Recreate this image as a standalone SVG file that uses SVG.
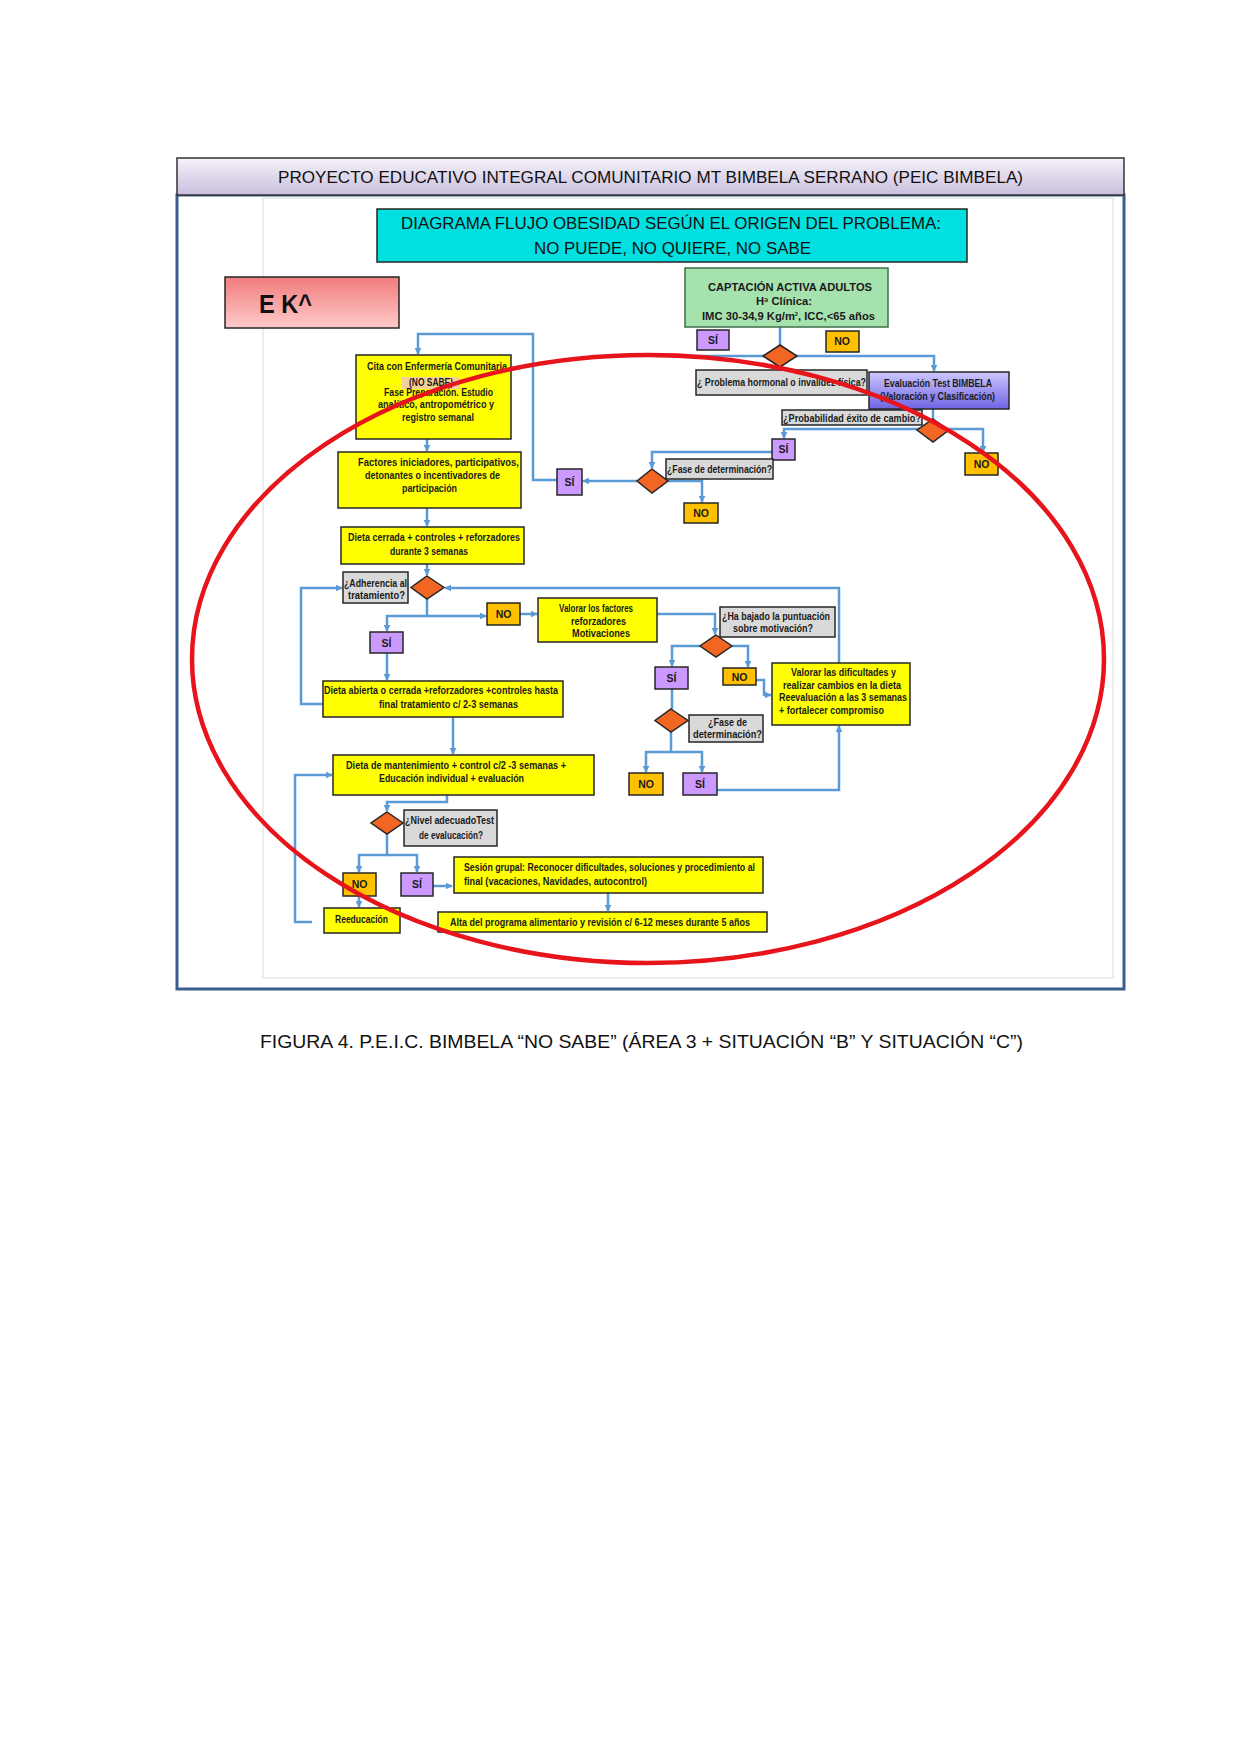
<svg xmlns="http://www.w3.org/2000/svg" width="1240" height="1754" viewBox="0 0 1240 1754">
<style>
.box{stroke:#262626;stroke-width:1.5}
.y{fill:#ffff00}
.g{fill:#d9d9d9}
.si{fill:#cc99ff}
.no{fill:#ffc000}
.dia{fill:#f26522;stroke:#262626;stroke-width:1.5}
.t{font-family:"Liberation Sans",Arial,sans-serif;font-weight:bold;font-size:10px;fill:#1a1a1a}
.l{font-family:"Liberation Sans",Arial,sans-serif;font-weight:bold;font-size:10.5px;fill:#1a1a1a;text-anchor:middle}
.c{stroke:#5b9bd5;stroke-width:2.5;fill:none}
.hd{font-family:"Liberation Sans",Arial,sans-serif;fill:#111}
</style>
<defs>
<marker id="a" viewBox="0 0 10 10" refX="9" refY="5" markerWidth="7" markerHeight="7" markerUnits="userSpaceOnUse" orient="auto"><path d="M0,0 L10,5 L0,10 z" fill="#5b9bd5"/></marker>
<linearGradient id="tb" x1="0" y1="0" x2="0" y2="1"><stop offset="0" stop-color="#f6f3fa"/><stop offset="1" stop-color="#c9bedd"/></linearGradient>
<linearGradient id="pk" x1="0" y1="0" x2="0" y2="1"><stop offset="0" stop-color="#f07c7c"/><stop offset="1" stop-color="#ffcaca"/></linearGradient>
<linearGradient id="ev" x1="0" y1="0" x2="0" y2="1"><stop offset="0" stop-color="#cdc8ff"/><stop offset="1" stop-color="#6f63e2"/></linearGradient>
</defs>
<rect width="1240" height="1754" fill="#ffffff"/>

<g id="frame">
<rect x="177" y="195" width="947" height="794" fill="#ffffff" stroke="#3a5f8f" stroke-width="3"/>
<rect x="263" y="198" width="850" height="780" fill="none" stroke="#d9d9d9" stroke-width="1"/>
<rect x="177" y="158" width="947" height="37" fill="url(#tb)" stroke="#333" stroke-width="1.5"/>
<text class="hd" x="278" y="183" font-size="17" textLength="745" lengthAdjust="spacingAndGlyphs">PROYECTO EDUCATIVO INTEGRAL COMUNITARIO MT BIMBELA SERRANO (PEIC BIMBELA)</text>
</g>

<g id="header">
<rect x="377" y="209" width="590" height="53" fill="#00e0e0" stroke="#262626" stroke-width="1.5"/>
<text class="hd" x="401" y="229" font-size="17" textLength="540" lengthAdjust="spacingAndGlyphs">DIAGRAMA FLUJO OBESIDAD SEGÚN EL ORIGEN DEL PROBLEMA:</text>
<text class="hd" x="534" y="254" font-size="17" textLength="277" lengthAdjust="spacingAndGlyphs">NO PUEDE, NO QUIERE, NO SABE</text>
</g>

<g id="ek">
<rect x="225" y="277" width="174" height="51" fill="url(#pk)" stroke="#262626" stroke-width="1.5"/>
<text class="hd" x="259" y="313" font-size="26" font-weight="bold" textLength="53" lengthAdjust="spacingAndGlyphs">E K^</text>
</g>

<g id="connectors">
<path class="c" d="M780,327 V345"/>
<path class="c" d="M695,356 H934 V371" marker-end="url(#a)"/>
<path class="c" d="M933,409 V419"/>
<path class="c" d="M933,429 H784 V438" marker-end="url(#a)"/>
<path class="c" d="M933,429 H983 V452" marker-end="url(#a)"/>
<path class="c" d="M772,452 H652 V468" marker-end="url(#a)"/>
<path class="c" d="M637,481 H583" marker-end="url(#a)"/>
<path class="c" d="M668,481 H702 V502" marker-end="url(#a)"/>
<path class="c" d="M557,480 H533 V334 H418 V354" marker-end="url(#a)"/>
<path class="c" d="M427,439 V451" marker-end="url(#a)"/>
<path class="c" d="M427,508 V526" marker-end="url(#a)"/>
<path class="c" d="M427,564 V575" marker-end="url(#a)"/>
<path class="c" d="M427,599 V616 H486" marker-end="url(#a)"/>
<path class="c" d="M427,616 H387 V631" marker-end="url(#a)"/>
<path class="c" d="M520,614 H537" marker-end="url(#a)"/>
<path class="c" d="M387,653 V680" marker-end="url(#a)"/>
<path class="c" d="M323,704 H301 V588 H342" marker-end="url(#a)"/>
<path class="c" d="M839,663 V588 H445" marker-end="url(#a)"/>
<path class="c" d="M657,614 H715 V634" marker-end="url(#a)"/>
<path class="c" d="M700,646 H672 V666" marker-end="url(#a)"/>
<path class="c" d="M732,646 H748 V667" marker-end="url(#a)"/>
<path class="c" d="M756,680 H764 V695 H771" marker-end="url(#a)"/>
<path class="c" d="M672,689 V709"/>
<path class="c" d="M671,732 V752 H646 V772" marker-end="url(#a)"/>
<path class="c" d="M671,752 H702 V772" marker-end="url(#a)"/>
<path class="c" d="M717,790 H839 V726" marker-end="url(#a)"/>
<path class="c" d="M453,717 V754" marker-end="url(#a)"/>
<path class="c" d="M447,795 V802 H387 V811" marker-end="url(#a)"/>
<path class="c" d="M387,834 V855 H359 V872" marker-end="url(#a)"/>
<path class="c" d="M387,855 H417 V872" marker-end="url(#a)"/>
<path class="c" d="M433,886 H452" marker-end="url(#a)"/>
<path class="c" d="M608,893 V911" marker-end="url(#a)"/>
<path class="c" d="M359,896 V907" marker-end="url(#a)"/>
<path class="c" d="M312,922 H295 V775 H332" marker-end="url(#a)"/>
</g>

<g id="captacion">
<rect x="685" y="268" width="203" height="59" fill="#a6e2ae" stroke="#3f6f4a" stroke-width="1.5"/>
<text class="t" x="708" y="291" textLength="164" lengthAdjust="spacingAndGlyphs">CAPTACIÓN ACTIVA ADULTOS</text>
<text class="t" x="756" y="305" textLength="56" lengthAdjust="spacingAndGlyphs">Hª Clínica:</text>
<text class="t" x="702" y="320" textLength="173" lengthAdjust="spacingAndGlyphs">IMC 30-34,9 Kg/m<tspan font-size="5" dy="-4">2</tspan><tspan dy="4">, ICC,&lt;65 años</tspan></text>
</g>
<g id="si1"><rect class="box si" x="697" y="330" width="32" height="20"/><text class="l" x="713" y="344">SÍ</text></g>
<g id="no1"><rect class="box no" x="826" y="331" width="33" height="21"/><text class="l" x="842" y="345">NO</text></g>
<g id="d1"><polygon class="dia" points="780,345 797,356 780,367 763,356"/></g>
<g id="q1"><rect class="box g" x="696" y="370" width="171" height="25"/><text class="t" x="697" y="386" textLength="169" lengthAdjust="spacingAndGlyphs">¿ Problema hormonal o invalidez física?</text></g>
<g id="eval"><rect x="869" y="372" width="140" height="37" fill="url(#ev)" stroke="#262626" stroke-width="1.5"/>
<text class="t" x="884" y="387" textLength="108" lengthAdjust="spacingAndGlyphs">Evaluación Test BIMBELA</text>
<text class="t" x="880" y="400" textLength="115" lengthAdjust="spacingAndGlyphs">(Valoración y Clasificación)</text></g>
<g id="q2"><rect class="box g" x="782" y="410" width="140" height="15"/><text class="t" x="783" y="421.5" textLength="138" lengthAdjust="spacingAndGlyphs">¿Probabilidad éxito de cambio?</text></g>
<g id="d2"><polygon class="dia" points="933,419 949,430 933,442 917,430"/></g>
<g id="si2"><rect class="box si" x="772" y="439" width="23" height="21"/><text class="l" x="783.5" y="453">SÍ</text></g>
<g id="no2"><rect class="box no" x="965" y="453" width="33" height="22"/><text class="l" x="981.5" y="468">NO</text></g>
<g id="q3"><rect class="box g" x="666" y="459" width="107" height="20"/><text class="t" x="667" y="473" textLength="105" lengthAdjust="spacingAndGlyphs">¿Fase de determinación?</text></g>
<g id="d3"><polygon class="dia" points="652,469 668,481 652,493 637,481"/></g>
<g id="si3"><rect class="box si" x="557" y="469" width="25" height="26"/><text class="l" x="569.5" y="486">SÍ</text></g>
<g id="no3"><rect class="box no" x="684" y="503" width="34" height="20"/><text class="l" x="701" y="517">NO</text></g>

<g id="cita">
<rect class="box y" x="356" y="355" width="155" height="84"/>
<rect x="402" y="377" width="58" height="12" fill="#f5cf9a"/>
<text class="t" x="367" y="370" textLength="140" lengthAdjust="spacingAndGlyphs">Cita con Enfermería Comunitaria</text>
<text class="t" x="409" y="386" textLength="44" lengthAdjust="spacingAndGlyphs">(NO SABE)</text>
<text class="t" x="384" y="396" textLength="109" lengthAdjust="spacingAndGlyphs">Fase Preparación. Estudio</text>
<text class="t" x="378" y="408" textLength="116" lengthAdjust="spacingAndGlyphs">analítico, antropométrico y</text>
<text class="t" x="402" y="421" textLength="72" lengthAdjust="spacingAndGlyphs">registro semanal</text>
</g>
<g id="factores">
<rect class="box y" x="338" y="452" width="183" height="56"/>
<text class="t" x="358" y="466" textLength="161" lengthAdjust="spacingAndGlyphs">Factores iniciadores, participativos,</text>
<text class="t" x="365" y="479" textLength="135" lengthAdjust="spacingAndGlyphs">detonantes o incentivadores de</text>
<text class="t" x="402" y="492" textLength="55" lengthAdjust="spacingAndGlyphs">participación</text>
</g>
<g id="dietacerrada">
<rect class="box y" x="341" y="527" width="183" height="37"/>
<text class="t" x="348" y="541" textLength="172" lengthAdjust="spacingAndGlyphs">Dieta cerrada + controles + reforzadores</text>
<text class="t" x="390" y="555" textLength="78" lengthAdjust="spacingAndGlyphs">durante 3 semanas</text>
</g>
<g id="q4"><rect class="box g" x="343" y="572" width="65" height="31"/>
<text class="t" x="344" y="587" textLength="63" lengthAdjust="spacingAndGlyphs">¿Adherencia al</text>
<text class="t" x="348" y="599" textLength="57" lengthAdjust="spacingAndGlyphs">tratamiento?</text></g>
<g id="d4"><polygon class="dia" points="427,576 444,587.5 427,599 411,587.5"/></g>
<g id="no4"><rect class="box no" x="487" y="603" width="33" height="22"/><text class="l" x="503.5" y="618">NO</text></g>
<g id="valorar">
<rect class="box y" x="538" y="598" width="119" height="44"/>
<text class="t" x="559" y="612" textLength="74" lengthAdjust="spacingAndGlyphs">Valorar los factores</text>
<text class="t" x="571" y="625" textLength="55" lengthAdjust="spacingAndGlyphs">reforzadores</text>
<text class="t" x="572" y="637" textLength="58" lengthAdjust="spacingAndGlyphs">Motivaciones</text>
</g>
<g id="si4"><rect class="box si" x="370" y="632" width="33" height="21"/><text class="l" x="386.5" y="647">SÍ</text></g>
<g id="dietaabierta">
<rect class="box y" x="323" y="681" width="240" height="36"/>
<text class="t" x="324" y="694" textLength="234" lengthAdjust="spacingAndGlyphs">Dieta abierta  o cerrada +reforzadores +controles hasta</text>
<text class="t" x="379" y="708" textLength="139" lengthAdjust="spacingAndGlyphs">final tratamiento c/ 2-3 semanas</text>
</g>
<g id="q6"><rect class="box g" x="720" y="607" width="115" height="30"/>
<text class="t" x="722" y="620" textLength="108" lengthAdjust="spacingAndGlyphs">¿Ha bajado la puntuación</text>
<text class="t" x="733" y="632" textLength="80" lengthAdjust="spacingAndGlyphs">sobre motivación?</text></g>
<g id="d6"><polygon class="dia" points="716,635 732,646 716,657 700,646"/></g>
<g id="si6"><rect class="box si" x="655" y="667" width="33" height="22"/><text class="l" x="671.5" y="682">SÍ</text></g>
<g id="no6"><rect class="box no" x="723" y="668" width="33" height="17"/><text class="l" x="739.5" y="680.5">NO</text></g>
<g id="valorardif">
<rect class="box y" x="772" y="663" width="138" height="62"/>
<text class="t" x="791" y="676" textLength="105" lengthAdjust="spacingAndGlyphs">Valorar las dificultades y</text>
<text class="t" x="783" y="689" textLength="118" lengthAdjust="spacingAndGlyphs">realizar cambios en la dieta</text>
<text class="t" x="779" y="701" textLength="128" lengthAdjust="spacingAndGlyphs">Reevaluación a las 3  semanas</text>
<text class="t" x="779" y="714" textLength="105" lengthAdjust="spacingAndGlyphs">+ fortalecer compromiso</text>
</g>
<g id="d7"><polygon class="dia" points="671,709 688,720.5 671,732 655,720.5"/></g>
<g id="q7"><rect class="box g" x="689" y="715" width="74" height="27"/>
<text class="t" x="708" y="726" textLength="39" lengthAdjust="spacingAndGlyphs">¿Fase de</text>
<text class="t" x="693" y="738" textLength="69" lengthAdjust="spacingAndGlyphs">determinación?</text></g>
<g id="no7"><rect class="box no" x="629" y="773" width="34" height="22"/><text class="l" x="646" y="788">NO</text></g>
<g id="si7"><rect class="box si" x="683" y="773" width="34" height="22"/><text class="l" x="700" y="788">SÍ</text></g>

<g id="dietamant">
<rect class="box y" x="333" y="755" width="261" height="40"/>
<text class="t" x="346" y="769" textLength="220" lengthAdjust="spacingAndGlyphs">Dieta de mantenimiento + control c/2  -3 semanas +</text>
<text class="t" x="379" y="782" textLength="145" lengthAdjust="spacingAndGlyphs">Educación individual + evaluación</text>
</g>
<g id="d5"><polygon class="dia" points="387,812 403,823 387,834 371,823"/></g>
<g id="q5"><rect class="box g" x="404" y="810" width="93" height="36"/>
<text class="t" x="405" y="824" font-size="9.5" textLength="89" lengthAdjust="spacingAndGlyphs">¿Nivel adecuadoTest</text>
<text class="t" x="419" y="839" font-size="9.5" textLength="64" lengthAdjust="spacingAndGlyphs">de evalucación?</text></g>
<g id="no5"><rect class="box no" x="343" y="873" width="33" height="23"/><text class="l" x="359.5" y="888">NO</text></g>
<g id="si5"><rect class="box si" x="401" y="873" width="32" height="23"/><text class="l" x="417" y="888">SÍ</text></g>
<g id="sesion">
<rect class="box y" x="454" y="857" width="309" height="36"/>
<text class="t" x="464" y="871" textLength="291" lengthAdjust="spacingAndGlyphs">Sesión grupal: Reconocer dificultades, soluciones y procedimiento al</text>
<text class="t" x="464" y="885" textLength="183" lengthAdjust="spacingAndGlyphs">final  (vacaciones, Navidades, autocontrol)</text>
</g>
<g id="alta">
<rect class="box y" x="438" y="912" width="329" height="20"/>
<text class="t" x="450" y="926" textLength="300" lengthAdjust="spacingAndGlyphs">Alta del programa alimentario y revisión c/ 6-12 meses durante 5 años</text>
</g>
<g id="reeducacion">
<rect class="box y" x="324" y="908" width="76" height="25"/>
<text class="t" x="335" y="923" textLength="53" lengthAdjust="spacingAndGlyphs">Reeducación</text>
</g>

<g id="ellipse">
<ellipse cx="648" cy="659" rx="456" ry="304" fill="none" stroke="#e8141c" stroke-width="4.5"/>
</g>

<g id="caption">
<text class="hd" x="260" y="1048" font-size="19" textLength="763" lengthAdjust="spacingAndGlyphs">FIGURA 4. P.E.I.C. BIMBELA “NO SABE” (ÁREA 3 + SITUACIÓN “B” Y SITUACIÓN “C”)</text>
</g>
</svg>
